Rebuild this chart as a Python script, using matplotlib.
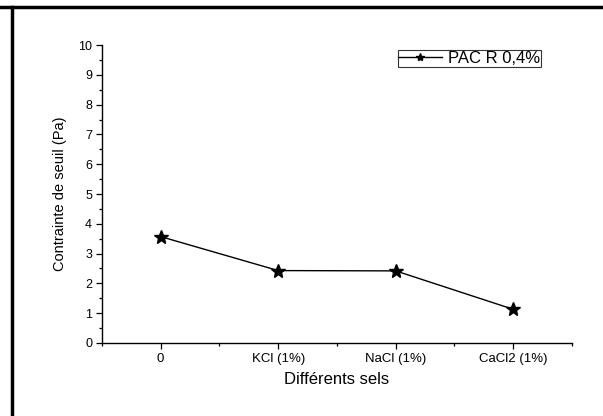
import matplotlib
matplotlib.use("Agg")
import matplotlib.pyplot as plt
from matplotlib.lines import Line2D
from matplotlib.ticker import MultipleLocator

plt.rcParams['font.family'] = ['Liberation Sans', 'DejaVu Sans']

categories = ["0", "KCl (1%)", "NaCl (1%)", "CaCl2 (1%)"]
seuil = [3.57, 2.43, 2.42, 1.13]
series_label = "PAC R 0,4%"

fig = plt.figure(figsize=(6.03, 4.16), dpi=100)
ax = fig.add_axes([0.169, 0.1755, 0.7796, 0.7163])

x = list(range(len(categories)))
ax.plot(x, seuil, color="black", lw=1.0, marker="*", markersize=10,
        markerfacecolor="black", markeredgecolor="black", label=series_label)

ax.set_xlim(-0.5, len(categories) - 0.5)
ax.set_ylim(0, 10)
ax.set_xticks(x)
ax.set_xticklabels(categories)
ax.xaxis.set_minor_locator(MultipleLocator(0.5))
ax.yaxis.set_major_locator(MultipleLocator(1))
ax.yaxis.set_minor_locator(MultipleLocator(0.5))

for s in ("top", "right"):
    ax.spines[s].set_visible(False)
for s in ("left", "bottom"):
    ax.spines[s].set_linewidth(1.0)

ax.tick_params(which="major", direction="out", length=4, width=0.9, labelsize=9.5, pad=3)
ax.tick_params(axis="y", which="major", labelsize=9)
ax.tick_params(which="minor", direction="out", length=2.5, width=0.9)

ax.set_xlabel("Différents sels", fontsize=12, labelpad=5)
ax.set_ylabel("Contrainte de seuil (Pa)", fontsize=10.5, labelpad=8)

leg = ax.legend(loc="upper left", bbox_to_anchor=(0.629, 0.983), fontsize=12,
                frameon=True, fancybox=False, handlelength=2.6, handletextpad=0.35,
                borderpad=0.05, borderaxespad=0, markerscale=0.6)
leg.get_frame().set_edgecolor("black")
leg.get_frame().set_linewidth(0.8)

# outer frame lines (top and left)
fig.add_artist(Line2D([0, 1], [1 - 7 / 416, 1 - 7 / 416], transform=fig.transFigure,
                      color="black", lw=2.5))
fig.add_artist(Line2D([12 / 603, 12 / 603], [0, 1 - 7 / 416], transform=fig.transFigure,
                      color="black", lw=2.5))

fig.savefig("out.png", dpi=100)
